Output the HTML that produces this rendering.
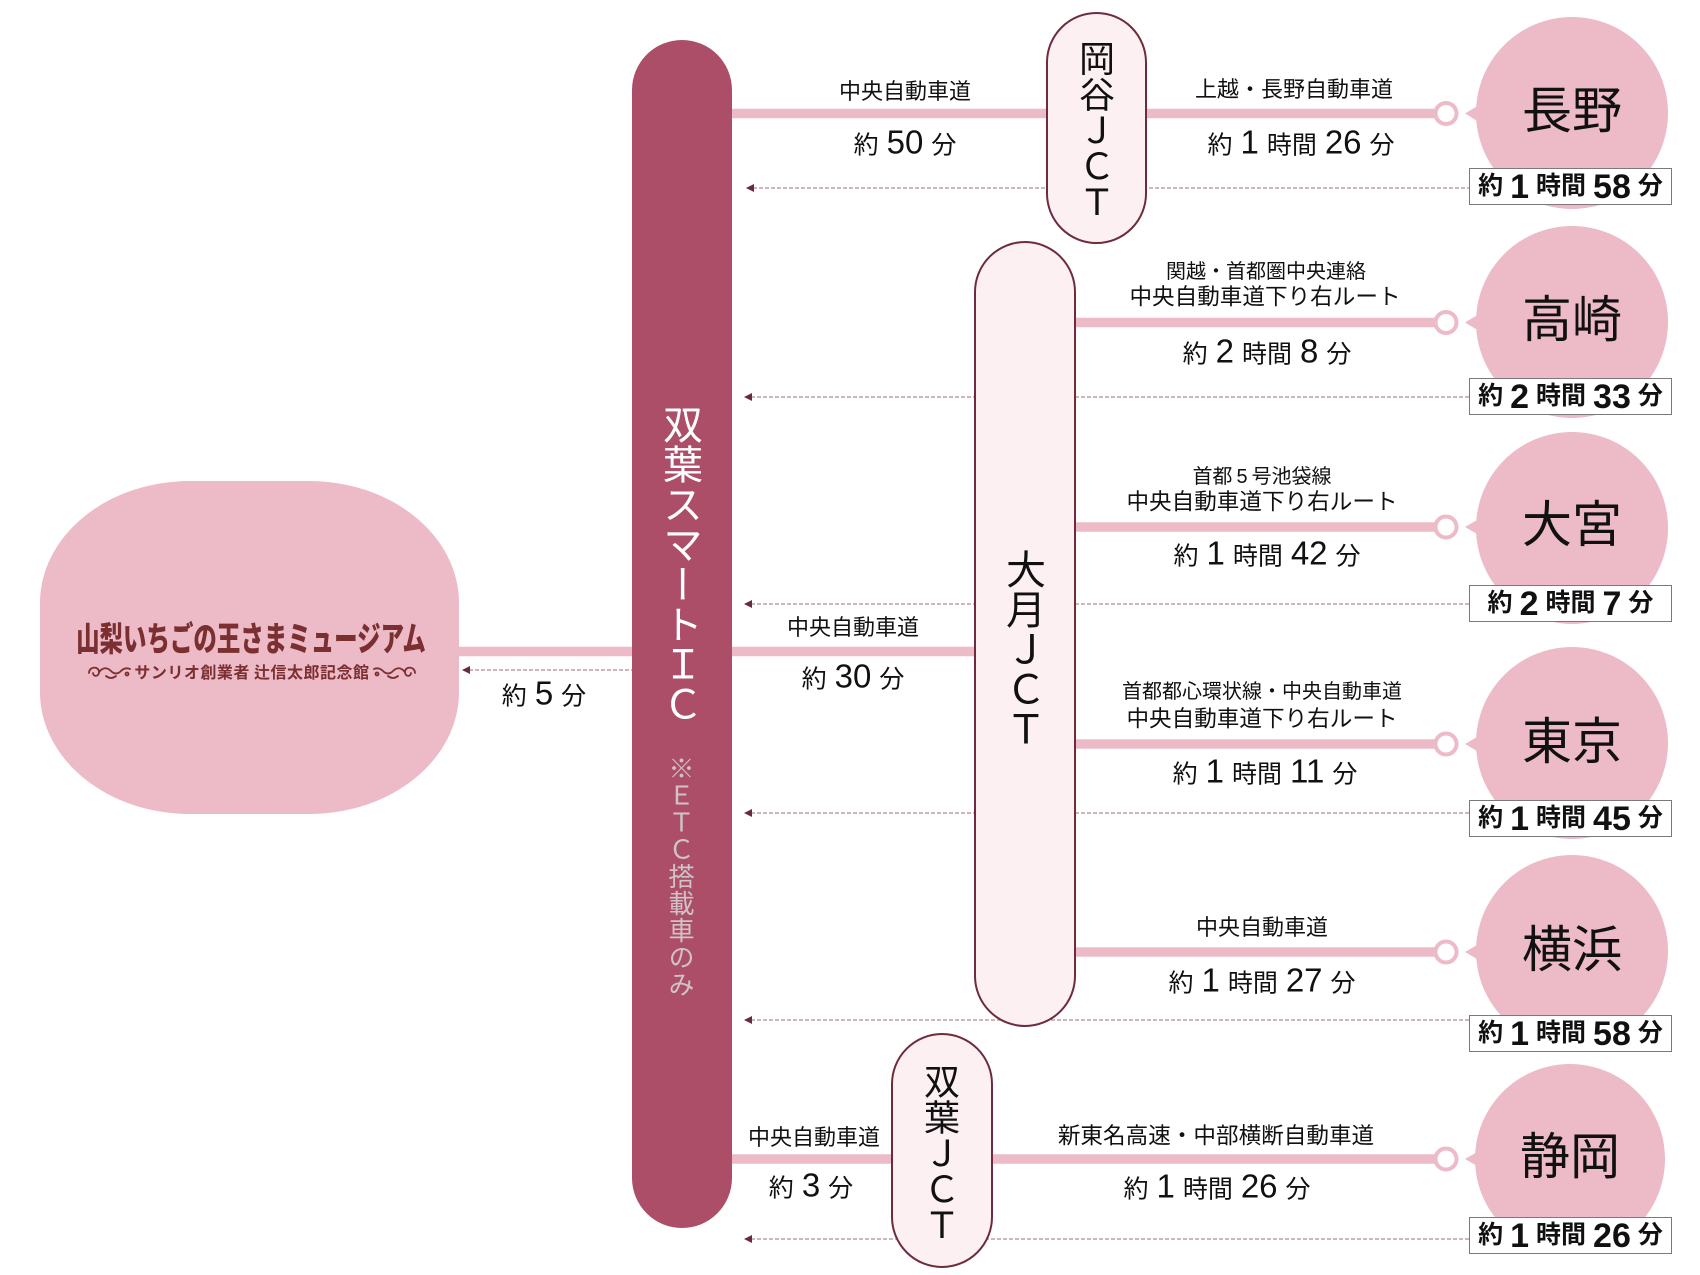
<!DOCTYPE html>
<html><head><meta charset="utf-8">
<style>
html,body{margin:0;padding:0;background:#fff;}
body{width:1700px;height:1275px;position:relative;overflow:hidden;font-family:"Liberation Sans","Noto Sans CJK JP",sans-serif;color:#111;}
svg{position:absolute;left:0;top:0;}
.t{position:absolute;white-space:nowrap;transform:translate(-50%,-50%);line-height:1;}
.l{font-size:22px;}
.s{font-size:20px;}
.r{font-size:22.6px;}
.m{font-size:25px;}
.m b{font-weight:normal;font-size:33px;margin:0 8px;font-family:"Liberation Sans",sans-serif;}
.s b{font-weight:normal;margin:0 4px;font-family:"Liberation Sans",sans-serif;}
.bx{position:absolute;left:1469px;width:201px;height:35px;border:1.5px solid #7a7a7a;background:#fff;display:flex;align-items:center;justify-content:center;font-weight:bold;font-size:25px;white-space:nowrap;line-height:1;}
.bx b{font-size:34px;margin:0 7px;font-family:"Liberation Sans",sans-serif;}
.v{position:absolute;writing-mode:vertical-rl;transform:translateX(-50%);line-height:1;white-space:nowrap;}
.dest{font-size:50px;}
.logo{position:absolute;left:251px;top:637px;transform:translate(-50%,-50%) scaleX(0.69);font-size:34px;font-weight:900;color:#7a3030;white-space:nowrap;line-height:1;font-family:"Noto Sans CJK JP",sans-serif;}
.sub{position:absolute;left:252px;top:671px;transform:translate(-50%,-50%);font-size:16px;letter-spacing:0.5px;font-weight:bold;color:#7a3030;white-space:nowrap;line-height:1;font-family:"Noto Sans CJK JP",sans-serif;}
</style></head>
<body>
<svg width="1700" height="1275" viewBox="0 0 1700 1275">
  <!-- museum -->
  <rect x="40" y="481" width="419" height="333" rx="150" ry="122" fill="#edbac7"/>
  <!-- dashed return lines -->
  <g stroke="#b58797" stroke-width="1.2" stroke-dasharray="4 2" fill="none">
    <line x1="747" y1="188" x2="1469" y2="188"/>
    <line x1="745" y1="397" x2="1469" y2="397"/>
    <line x1="745" y1="604" x2="1469" y2="604"/>
    <line x1="745" y1="813" x2="1469" y2="813"/>
    <line x1="745" y1="1020" x2="1469" y2="1020"/>
    <line x1="745" y1="1239" x2="1469" y2="1239"/>
    <line x1="463" y1="670" x2="632" y2="670"/>
  </g>
  <g fill="#6b2a3a">
    <polygon points="746,188 754,184 754,192"/>
    <polygon points="744,397 752,393 752,401"/>
    <polygon points="744,604 752,600 752,608"/>
    <polygon points="744,813 752,809 752,817"/>
    <polygon points="744,1020 752,1016 752,1024"/>
    <polygon points="744,1239 752,1235 752,1243"/>
    <polygon points="462,670 470,666 470,674"/>
  </g>
  <!-- solid pink routes -->
  <g stroke="#edbac7" stroke-width="9.5">
    <line x1="455" y1="651.5" x2="635" y2="651.5"/>
    <line x1="730" y1="113.5" x2="1440" y2="113.5"/>
    <line x1="730" y1="651.5" x2="980" y2="651.5"/>
    <line x1="1070" y1="322.5" x2="1440" y2="322.5"/>
    <line x1="1070" y1="527" x2="1440" y2="527"/>
    <line x1="1070" y1="744" x2="1440" y2="744"/>
    <line x1="1070" y1="952" x2="1440" y2="952"/>
    <line x1="730" y1="1159" x2="1440" y2="1159"/>
  </g>
  <!-- main bar -->
  <rect x="632" y="40" width="100" height="1188" rx="50" ry="50" fill="#ad4e69"/>
  <!-- JCT pills -->
  <g fill="#fcf0f3" stroke="#6d2c3c" stroke-width="2">
    <rect x="1047" y="13" width="99" height="230" rx="49.5" ry="49.5"/>
    <rect x="975" y="242" width="100" height="784" rx="50" ry="50"/>
    <rect x="892" y="1034" width="100" height="233" rx="50" ry="50"/>
  </g>
  <!-- end rings -->
  <g fill="#fff" stroke="#edbac7" stroke-width="4">
    <circle cx="1446" cy="113.5" r="10.5"/>
    <circle cx="1446" cy="322.5" r="10.5"/>
    <circle cx="1446" cy="527" r="10.5"/>
    <circle cx="1446" cy="744" r="10.5"/>
    <circle cx="1446" cy="952" r="10.5"/>
    <circle cx="1446" cy="1159" r="10.5"/>
  </g>
  <!-- destination circles -->
  <g fill="#edbac7">
    <circle cx="1572" cy="113" r="96"/><polygon points="1465,113.5 1484,102 1484,125"/>
    <circle cx="1572" cy="322" r="96"/><polygon points="1465,322.5 1484,311 1484,334"/>
    <circle cx="1572" cy="528" r="96"/><polygon points="1465,527 1484,516 1484,538"/>
    <circle cx="1572" cy="743" r="96"/><polygon points="1465,744 1484,733 1484,755"/>
    <circle cx="1572" cy="951" r="96"/><polygon points="1465,952 1484,941 1484,963"/>
    <circle cx="1570" cy="1159" r="95"/><polygon points="1465,1159 1484,1148 1484,1170"/>
  </g>
  <!-- logo ornaments -->
  <g stroke="#7a3030" stroke-width="1.8" fill="none" stroke-linecap="round">
    <g>
      <path d="M89 673 c0 -7 10 -7 10 -1 c0 5 -6 5 -6 1"/>
      <path d="M99 672 q6 -7 12 -1 q5 5 10 0 q4 -4 9 -2"/>
      <path d="M106 676 q5 4 10 0"/>
      <circle cx="127" cy="674" r="1.5"/>
    </g>
    <g transform="translate(504,0) scale(-1,1)">
      <path d="M89 673 c0 -7 10 -7 10 -1 c0 5 -6 5 -6 1"/>
      <path d="M99 672 q6 -7 12 -1 q5 5 10 0 q4 -4 9 -2"/>
      <path d="M106 676 q5 4 10 0"/>
      <circle cx="127" cy="674" r="1.5"/>
    </g>
  </g>
</svg>

<!-- logo -->
<div class="logo">山梨いちごの王さまミュージアム</div>
<div class="sub">サンリオ創業者 辻信太郎記念館</div>

<!-- vertical texts -->
<div class="v" style="left:679px;top:404px;font-size:40px;color:#fff;">双葉スマートＩＣ</div>
<div class="v" style="left:680px;top:755px;font-size:26px;letter-spacing:1px;color:#cfc3c8;">※ＥＴＣ搭載車のみ</div>
<div class="v" style="left:1094px;top:40px;font-size:36px;">岡谷ＪＣＴ</div>
<div class="v" style="left:1022px;top:549px;font-size:40px;">大月ＪＣＴ</div>
<div class="v" style="left:939px;top:1063px;font-size:36px;">双葉ＪＣＴ</div>

<!-- destination names -->
<div class="t dest" style="left:1572px;top:111px;">長野</div>
<div class="t dest" style="left:1572px;top:320px;">高崎</div>
<div class="t dest" style="left:1572px;top:525px;">大宮</div>
<div class="t dest" style="left:1572px;top:742px;">東京</div>
<div class="t dest" style="left:1572px;top:950px;">横浜</div>
<div class="t dest" style="left:1570px;top:1157px;">静岡</div>

<!-- time boxes -->
<div class="bx" style="top:168px;">約<b>1</b>時間<b>58</b>分</div>
<div class="bx" style="top:378px;">約<b>2</b>時間<b>33</b>分</div>
<div class="bx" style="top:585px;">約<b>2</b>時間<b>7</b>分</div>
<div class="bx" style="top:800px;">約<b>1</b>時間<b>45</b>分</div>
<div class="bx" style="top:1015px;">約<b>1</b>時間<b>58</b>分</div>
<div class="bx" style="top:1217px;">約<b>1</b>時間<b>26</b>分</div>

<!-- route labels -->
<div class="t m" style="left:544px;top:693px;">約<b>5</b>分</div>

<div class="t l" style="left:905px;top:92px;">中央自動車道</div>
<div class="t m" style="left:905px;top:142px;">約<b>50</b>分</div>
<div class="t l" style="left:1294px;top:90px;">上越・長野自動車道</div>
<div class="t m" style="left:1301px;top:142px;">約<b>1</b>時間<b>26</b>分</div>

<div class="t s" style="left:1266px;top:272px;">関越・首都圏中央連絡</div>
<div class="t r" style="left:1265px;top:298px;">中央自動車道下り右ルート</div>
<div class="t m" style="left:1267px;top:351px;">約<b>2</b>時間<b>8</b>分</div>

<div class="t s" style="left:1262px;top:477px;">首都<b>5</b>号池袋線</div>
<div class="t r" style="left:1262px;top:503px;">中央自動車道下り右ルート</div>
<div class="t m" style="left:1267px;top:553px;">約<b>1</b>時間<b>42</b>分</div>

<div class="t l" style="left:853px;top:628px;">中央自動車道</div>
<div class="t m" style="left:853px;top:676px;">約<b>30</b>分</div>

<div class="t s" style="left:1262px;top:692px;">首都都心環状線・中央自動車道</div>
<div class="t r" style="left:1262px;top:720px;">中央自動車道下り右ルート</div>
<div class="t m" style="left:1265px;top:771px;">約<b>1</b>時間<b>11</b>分</div>

<div class="t l" style="left:1262px;top:928px;">中央自動車道</div>
<div class="t m" style="left:1262px;top:980px;">約<b>1</b>時間<b>27</b>分</div>

<div class="t l" style="left:814px;top:1138px;">中央自動車道</div>
<div class="t m" style="left:811px;top:1185px;">約<b>3</b>分</div>
<div class="t r" style="left:1216px;top:1137px;">新東名高速・中部横断自動車道</div>
<div class="t m" style="left:1217px;top:1186px;">約<b>1</b>時間<b>26</b>分</div>
</body></html>
